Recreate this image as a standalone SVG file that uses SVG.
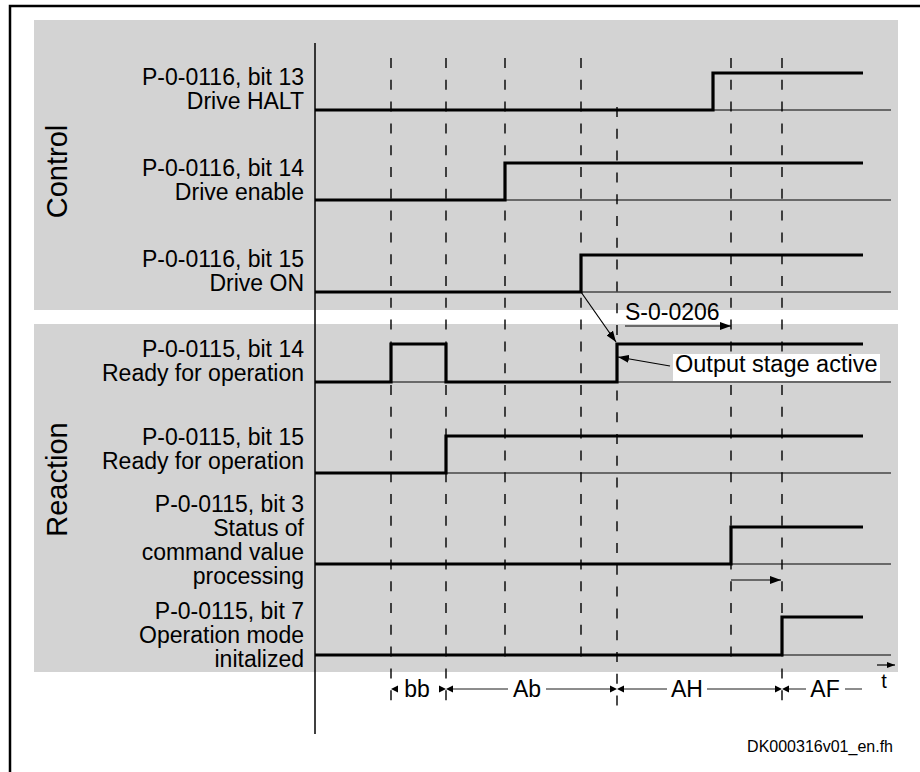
<svg xmlns="http://www.w3.org/2000/svg" width="920" height="772" viewBox="0 0 920 772">
<defs>
<marker id="ah" markerUnits="userSpaceOnUse" markerWidth="11" markerHeight="8" refX="11" refY="4" orient="auto"><path d="M0,0 L11,4 L0,8 z" fill="#000"/></marker>
<marker id="ahs" markerUnits="userSpaceOnUse" markerWidth="8" markerHeight="6" refX="8" refY="3" orient="auto"><path d="M0,0 L8,3 L0,6 z" fill="#000"/></marker>
</defs>
<style>
text{font-family:"Liberation Sans",Arial,Helvetica,sans-serif;fill:#000}
.lbl{font-size:23px;text-anchor:end}
.sec{font-size:29px;text-anchor:middle}
.dimt{font-size:23px;text-anchor:middle}
.panel{fill:#d3d3d3}
.sig{fill:none;stroke:#000;stroke-width:3.2;stroke-linejoin:miter;stroke-linecap:butt}
.base{stroke:#000;stroke-width:1.2}
.dash{stroke:#000;stroke-width:1.4;stroke-dasharray:10 11.8}
.dim{stroke:#000;stroke-width:0.9}
.arr{stroke:#000;stroke-width:1.2;fill:none}
</style>
<rect x="0" y="0" width="920" height="772" fill="#fff"/>
<path d="M10,772 V6 H920" fill="none" stroke="#000" stroke-width="2.5"/>

<g id="panel-control">
<rect class="panel" x="34" y="20" width="864" height="290"/>
<text class="sec" transform="translate(67,171.5) rotate(-90)">Control</text>
</g>
<g id="panel-reaction">
<rect class="panel" x="34" y="324" width="864" height="348"/>
<text class="sec" transform="translate(67,479.5) rotate(-90)">Reaction</text>
</g>

<g id="axis">
<line x1="315" y1="43" x2="315" y2="734" stroke="#000" stroke-width="1.5"/>
</g>

<g id="time-markers">
<line class="dash" x1="391" y1="58" x2="391" y2="709"/>
<line class="dash" x1="446" y1="58" x2="446" y2="709"/>
<line class="dash" x1="505" y1="58" x2="505" y2="662"/>
<line class="dash" x1="581" y1="58" x2="581" y2="662"/>
<line class="dash" x1="617" y1="107" x2="617" y2="709"/>
<line class="dash" x1="731" y1="58" x2="731" y2="662"/>
<line class="dash" x1="782" y1="58" x2="782" y2="709"/>
</g>

<g id="sig-halt">
<text class="lbl" x="304" y="85">P-0-0116, bit 13</text>
<text class="lbl" x="304" y="109">Drive HALT</text>
<line class="base" x1="315" y1="110" x2="891" y2="110"/>
<path class="sig" d="M315,110 H713 V73 H863"/>
</g>
<g id="sig-enable">
<text class="lbl" x="304" y="176">P-0-0116, bit 14</text>
<text class="lbl" x="304" y="200">Drive enable</text>
<line class="base" x1="315" y1="200" x2="891" y2="200"/>
<path class="sig" d="M315,200 H505 V163 H863"/>
</g>
<g id="sig-on">
<text class="lbl" x="304" y="267">P-0-0116, bit 15</text>
<text class="lbl" x="304" y="291">Drive ON</text>
<line class="base" x1="315" y1="292" x2="891" y2="292"/>
<path class="sig" d="M315,292 H581 V255 H863"/>
</g>
<g id="sig-ready14">
<text class="lbl" x="304" y="357">P-0-0115, bit 14</text>
<text class="lbl" x="304" y="381">Ready for operation</text>
<line class="base" x1="315" y1="382" x2="891" y2="382"/>
<path class="sig" d="M315,382 H391 V344 H446 V382 H617 V344 H863"/>
</g>
<g id="sig-ready15">
<text class="lbl" x="304" y="445">P-0-0115, bit 15</text>
<text class="lbl" x="304" y="469">Ready for operation</text>
<line class="base" x1="315" y1="473" x2="891" y2="473"/>
<path class="sig" d="M315,473 H446 V436 H863"/>
</g>
<g id="sig-status3">
<text class="lbl" x="304" y="512">P-0-0115, bit 3</text>
<text class="lbl" x="304" y="536">Status of</text>
<text class="lbl" x="304" y="560">command value</text>
<text class="lbl" x="304" y="584">processing</text>
<line class="base" x1="315" y1="564" x2="891" y2="564"/>
<path class="sig" d="M315,564 H731 V527 H863"/>
</g>
<g id="sig-mode7">
<text class="lbl" x="304" y="619">P-0-0115, bit 7</text>
<text class="lbl" x="304" y="643">Operation mode</text>
<text class="lbl" x="304" y="667">initalized</text>
<line class="base" x1="315" y1="655" x2="891" y2="655"/>
<path class="sig" d="M315,655 H782 V617 H863"/>
</g>

<g id="label-s0206">
<text x="625" y="320" font-size="23">S-0-0206</text>
</g>
<g id="label-output">
<rect x="673" y="354" width="207" height="27" fill="#fff"/>
<text x="675" y="372" font-size="23.5">Output stage active</text>
</g>

<g id="connectors">
<line class="arr" x1="581" y1="292" x2="616" y2="342" marker-end="url(#ah)"/>
<line class="arr" x1="625" y1="326" x2="731" y2="326" marker-end="url(#ah)"/>
<line class="arr" x1="670" y1="366" x2="618" y2="357" marker-end="url(#ah)"/>
<line class="arr" x1="731" y1="580" x2="781" y2="580" marker-end="url(#ah)"/>
<line class="arr" x1="877" y1="665" x2="895" y2="665" marker-end="url(#ahs)"/>
</g>

<g id="dimensions">
<polygon points="391,689 398,685.5 398,692.5"/>
<polygon points="446,689 439,685.5 439,692.5"/>
<polygon points="446,689 453,685.5 453,692.5"/>
<line class="dim" x1="453" y1="689" x2="508" y2="689"/>
<line class="dim" x1="546" y1="689" x2="610" y2="689"/>
<polygon points="617,689 610,685.5 610,692.5"/>
<polygon points="617,689 624,685.5 624,692.5"/>
<line class="dim" x1="624" y1="689" x2="667" y2="689"/>
<line class="dim" x1="707" y1="689" x2="775" y2="689"/>
<polygon points="782,689 775,685.5 775,692.5"/>
<polygon points="782,689 789,685.5 789,692.5"/>
<line class="dim" x1="789" y1="689" x2="806" y2="689"/>
<line class="dim" x1="845" y1="689" x2="862" y2="689"/>
<text class="dimt" x="417" y="697">bb</text>
<text class="dimt" x="527" y="697">Ab</text>
<text class="dimt" x="687" y="697">AH</text>
<text class="dimt" x="825" y="697">AF</text>
</g>

<g id="time-label">
<text x="884" y="688" font-size="20" text-anchor="middle">t</text>
</g>
<g id="footer">
<text x="893" y="752" font-size="16" text-anchor="end">DK000316v01_en.fh</text>
</g>
</svg>
